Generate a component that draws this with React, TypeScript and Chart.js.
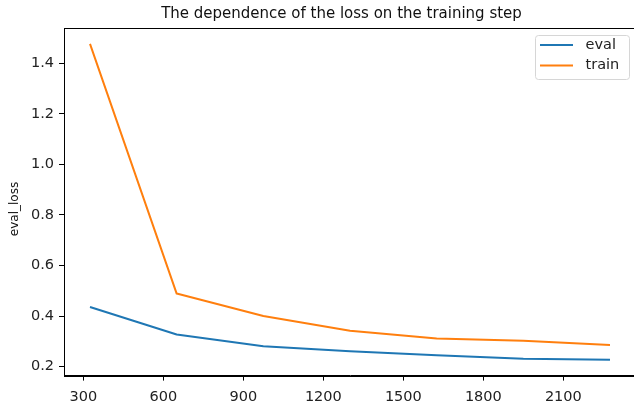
import React, { useEffect, useRef } from "react";
import { Chart, registerables } from "chart.js";

Chart.register(...registerables);

// ---- data ----
const steps = [325, 650, 975, 1300, 1625, 1950, 2275];
const evalLoss = [0.436, 0.327, 0.281, 0.261, 0.245, 0.231, 0.227];
const trainLoss = [1.477, 0.489, 0.4, 0.342, 0.311, 0.302, 0.286];
const xTicks = [300, 600, 900, 1200, 1500, 1800, 2100];
const yTicks = [0.2, 0.4, 0.6, 0.8, 1.0, 1.2, 1.4];
const seriesNames = ["eval", "train"];
const seriesColors = ["#1f77b4", "#ff7f0e"];
const titleText = "The dependence of the loss on the training step";
const yLabel = "eval_loss";

const FONT = "'DejaVu Sans', sans-serif";

const framePlugin = {
  id: "frame",
  afterDraw(chart: any) {
    const { ctx, chartArea } = chart;
    ctx.save();
    ctx.strokeStyle = "#000";
    ctx.lineWidth = 1;
    const l = Math.round(chartArea.left) + 0.5;
    const t = Math.round(chartArea.top) + 0.5;
    const r = Math.round(chartArea.right) + 0.5;
    const b = Math.round(chartArea.bottom) + 0.5;
    ctx.strokeRect(l, t, r - l, b - t);
    ctx.restore();
  },
};

const textPlugin = {
  id: "texts",
  afterDraw(chart: any) {
    const { ctx } = chart;
    ctx.save();
    // title
    ctx.fillStyle = "#111";
    ctx.font = `15px ${FONT}`;
    ctx.textAlign = "center";
    ctx.textBaseline = "middle";
    ctx.fillText(titleText, 341.5, 14);
    // y label
    ctx.translate(14.5, 209);
    ctx.rotate(-Math.PI / 2);
    ctx.font = `12px ${FONT}`;
    ctx.fillText(yLabel, 0, 0);
    ctx.restore();
  },
};

const legendPlugin = {
  id: "mplLegend",
  afterDraw(chart: any) {
    const { ctx } = chart;
    const x0 = 535.5, y0 = 35.5, w = 94, h = 44, rad = 3;
    ctx.save();
    ctx.beginPath();
    ctx.moveTo(x0 + rad, y0);
    ctx.lineTo(x0 + w - rad, y0);
    ctx.arcTo(x0 + w, y0, x0 + w, y0 + rad, rad);
    ctx.lineTo(x0 + w, y0 + h - rad);
    ctx.arcTo(x0 + w, y0 + h, x0 + w - rad, y0 + h, rad);
    ctx.lineTo(x0 + rad, y0 + h);
    ctx.arcTo(x0, y0 + h, x0, y0 + h - rad, rad);
    ctx.lineTo(x0, y0 + rad);
    ctx.arcTo(x0, y0, x0 + rad, y0, rad);
    ctx.closePath();
    ctx.fillStyle = "rgba(255,255,255,0.8)";
    ctx.fill();
    ctx.strokeStyle = "#d6d6d6";
    ctx.lineWidth = 1;
    ctx.stroke();
    chart.data.datasets.forEach((ds: any, i: number) => {
      const y = 45 + i * 20.5;
      ctx.beginPath();
      ctx.strokeStyle = ds.borderColor;
      ctx.lineWidth = 2;
      ctx.moveTo(540, y);
      ctx.lineTo(573, y);
      ctx.stroke();
      ctx.fillStyle = "#222";
      ctx.font = `14.5px ${FONT}`;
      ctx.textBaseline = "middle";
      ctx.textAlign = "left";
      ctx.fillText(ds.label, 585.5, y);
    });
    ctx.restore();
  },
};

export default function App() {
  const ref = useRef<HTMLCanvasElement | null>(null);

  useEffect(() => {
    document.body.style.margin = "0";
    const canvas = ref.current;
    if (!canvas) return;
    const chart = new Chart(canvas, {
      type: "line",
      data: {
        datasets: [
          {
            label: seriesNames[0],
            data: steps.map((s, i) => ({ x: s, y: evalLoss[i] })),
            borderColor: seriesColors[0],
            backgroundColor: seriesColors[0],
            borderWidth: 2,
            pointRadius: 0,
            tension: 0,
            borderJoinStyle: "round",
          },
          {
            label: seriesNames[1],
            data: steps.map((s, i) => ({ x: s, y: trainLoss[i] })),
            borderColor: seriesColors[1],
            backgroundColor: seriesColors[1],
            borderWidth: 2,
            pointRadius: 0,
            tension: 0,
            borderJoinStyle: "round",
          },
        ],
      },
      options: {
        responsive: false,
        animation: false,
        devicePixelRatio: 1,
        layout: { padding: { left: 0, right: 4, top: 28, bottom: 0 } },
        plugins: {
          legend: { display: false },
          tooltip: { enabled: false },
          title: { display: false },
        },
        scales: {
          x: {
            type: "linear",
            min: 227.5,
            max: 2372.5,
            afterBuildTicks: (scale: any) => {
              scale.ticks = xTicks.map((v) => ({ value: v }));
            },
            afterFit: (scale: any) => {
              scale.height = 33.4;
            },
            ticks: {
              color: "#222",
              font: { family: FONT, size: 14.5 },
              padding: 8,
              maxRotation: 0,
              autoSkip: false,
              callback: (v: any) => String(v),
            },
            grid: {
              drawOnChartArea: false,
              drawTicks: true,
              tickLength: 5,
              color: "#000",
            },
            border: { display: true, color: "#000", width: 1 },
          },
          y: {
            type: "linear",
            min: 0.1645,
            max: 1.5395,
            afterBuildTicks: (scale: any) => {
              scale.ticks = yTicks.map((v) => ({ value: v }));
            },
            afterFit: (scale: any) => {
              scale.width = 64;
            },
            ticks: {
              color: "#222",
              font: { family: FONT, size: 14.5 },
              padding: 5,
              autoSkip: false,
              callback: (v: any) => Number(v).toFixed(1),
            },
            grid: {
              drawOnChartArea: false,
              drawTicks: true,
              tickLength: 5,
              color: "#000",
            },
            border: { display: true, color: "#000", width: 1 },
          },
        },
      } as any,
      plugins: [framePlugin, textPlugin, legendPlugin],
    });
    return () => chart.destroy();
  }, []);

  return (
    <div style={{ width: 634, height: 409, overflow: "hidden", background: "#fff" }}>
      <canvas ref={ref} width={640} height={409} style={{ width: 640, height: 409, display: "block" }} />
    </div>
  );
}
